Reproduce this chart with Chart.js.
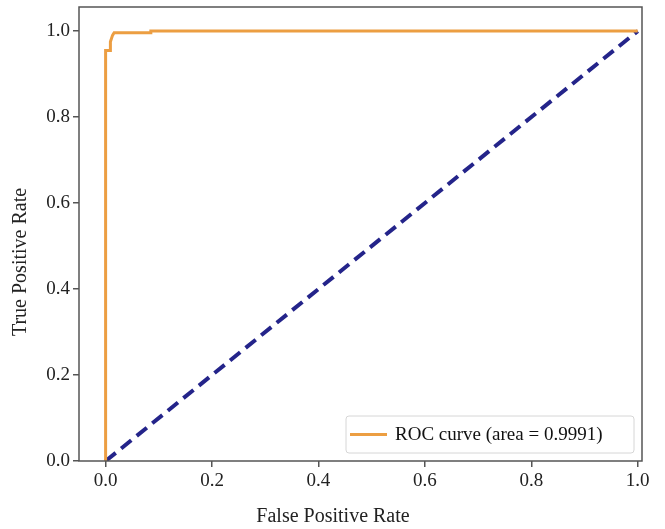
<!DOCTYPE html>
<html>
<head>
<meta charset="utf-8">
<script src="https://cdn.jsdelivr.net/npm/chart.js@4.4.1/dist/chart.umd.min.js"></script>
<style>
  html, body { margin: 0; padding: 0; background: #fff; }
  #wrap { width: 665px; height: 529px; }
</style>
</head>
<body>
<div id="wrap"><canvas id="c" width="665" height="529"></canvas></div>
<script>
// ROC curve (false positive rate, true positive rate)
const rocFpr = [0.0, 0.0, 0.009, 0.009, 0.013, 0.016, 0.085, 0.085, 1.0];
const rocTpr = [0.0, 0.955, 0.955, 0.975, 0.99, 0.996, 0.996, 1.0, 1.0];
const chanceFpr = [0.0, 1.0];
const chanceTpr = [0.0, 1.0];
const tickValues = [0.0, 0.2, 0.4, 0.6, 0.8, 1.0];
const rocLabel = 'ROC curve (area = 0.9991)';
const xTitle = 'False Positive Rate';
const yTitle = 'True Positive Rate';

const serif = '"Liberation Serif", "DejaVu Serif", serif';
const axisColor = '#555';
const textColor = '#222';

const toPoints = (xs, ys) => xs.map((x, i) => ({ x, y: ys[i] }));

// frame, axis titles and the in-plot legend, matplotlib style
const framePlugin = {
  id: 'frame',
  afterDraw(chart) {
    const { ctx, chartArea: a } = chart;
    ctx.save();
    ctx.strokeStyle = axisColor;
    ctx.lineWidth = 1.5;
    ctx.strokeRect(a.left, a.top, a.right - a.left, a.bottom - a.top);

    // axis titles (the originals sit a little off-centre)
    ctx.fillStyle = textColor;
    ctx.font = '20px ' + serif;
    ctx.textAlign = 'center';
    ctx.textBaseline = 'middle';
    ctx.fillText(xTitle, 333, 517);
    ctx.save();
    ctx.translate(21, 262);
    ctx.rotate(-Math.PI / 2);
    ctx.fillText(yTitle, 0, 0);
    ctx.restore();

    // legend box
    const ds = chart.data.datasets[0];
    const bx = 346, by = 416, bw = 288, bh = 37;
    ctx.fillStyle = 'rgba(255,255,255,0.85)';
    ctx.strokeStyle = '#d6d6d6';
    ctx.lineWidth = 1;
    ctx.beginPath();
    ctx.roundRect(bx, by, bw, bh, 3);
    ctx.fill();
    ctx.stroke();
    ctx.strokeStyle = ds.borderColor;
    ctx.lineWidth = ds.borderWidth;
    ctx.beginPath();
    ctx.moveTo(bx + 4, by + bh / 2);
    ctx.lineTo(bx + 41, by + bh / 2);
    ctx.stroke();
    ctx.fillStyle = '#111';
    ctx.font = '19px ' + serif;
    ctx.textAlign = 'left';
    ctx.textBaseline = 'middle';
    ctx.fillText(ds.label, bx + 49, by + bh / 2 + 1);
    ctx.restore();
  }
};

const tickOpts = {
  color: textColor,
  font: { family: serif, size: 19 },
  padding: 3,
  autoSkip: false,
  maxRotation: 0,
  callback: (v) => v.toFixed(1),
};

new Chart(document.getElementById('c'), {
  type: 'scatter',
  plugins: [framePlugin],
  data: {
    datasets: [
      {
        label: rocLabel,
        data: toPoints(rocFpr, rocTpr),
        showLine: true,
        borderColor: '#ec9e42',
        borderWidth: 3,
        pointRadius: 0,
        tension: 0,
      },
      {
        label: 'chance',
        data: toPoints(chanceFpr, chanceTpr),
        showLine: true,
        borderColor: '#24248a',
        borderWidth: 4,
        borderDash: [13, 7],
        pointRadius: 0,
      },
    ]
  },
  options: {
    responsive: false,
    animation: false,
    layout: {
      padding: { top: 7, right: 23, left: 0, bottom: 0 }
    },
    scales: {
      x: {
        type: 'linear',
        min: -0.05,
        max: 1.008,
        afterBuildTicks: (scale) => { scale.ticks = tickValues.map((value) => ({ value })); },
        afterFit: (scale) => { scale.height = 68; },
        grid: { drawOnChartArea: false, tickLength: 6, color: axisColor, lineWidth: 1.5 },
        border: { display: false },
        ticks: tickOpts,
      },
      y: {
        type: 'linear',
        min: 0.0,
        max: 1.056,
        afterBuildTicks: (scale) => { scale.ticks = tickValues.map((value) => ({ value })); },
        afterFit: (scale) => {
          scale.width = 79;
          // top label sits well below the frame, so no extra room is needed
          scale.paddingTop = 0;
        },
        grid: { drawOnChartArea: false, tickLength: 6, color: axisColor, lineWidth: 1.5 },
        border: { display: false },
        ticks: tickOpts,
      },
    },
    plugins: {
      legend: { display: false },
      tooltip: { enabled: false },
    },
  },
});
</script>
</body>
</html>
